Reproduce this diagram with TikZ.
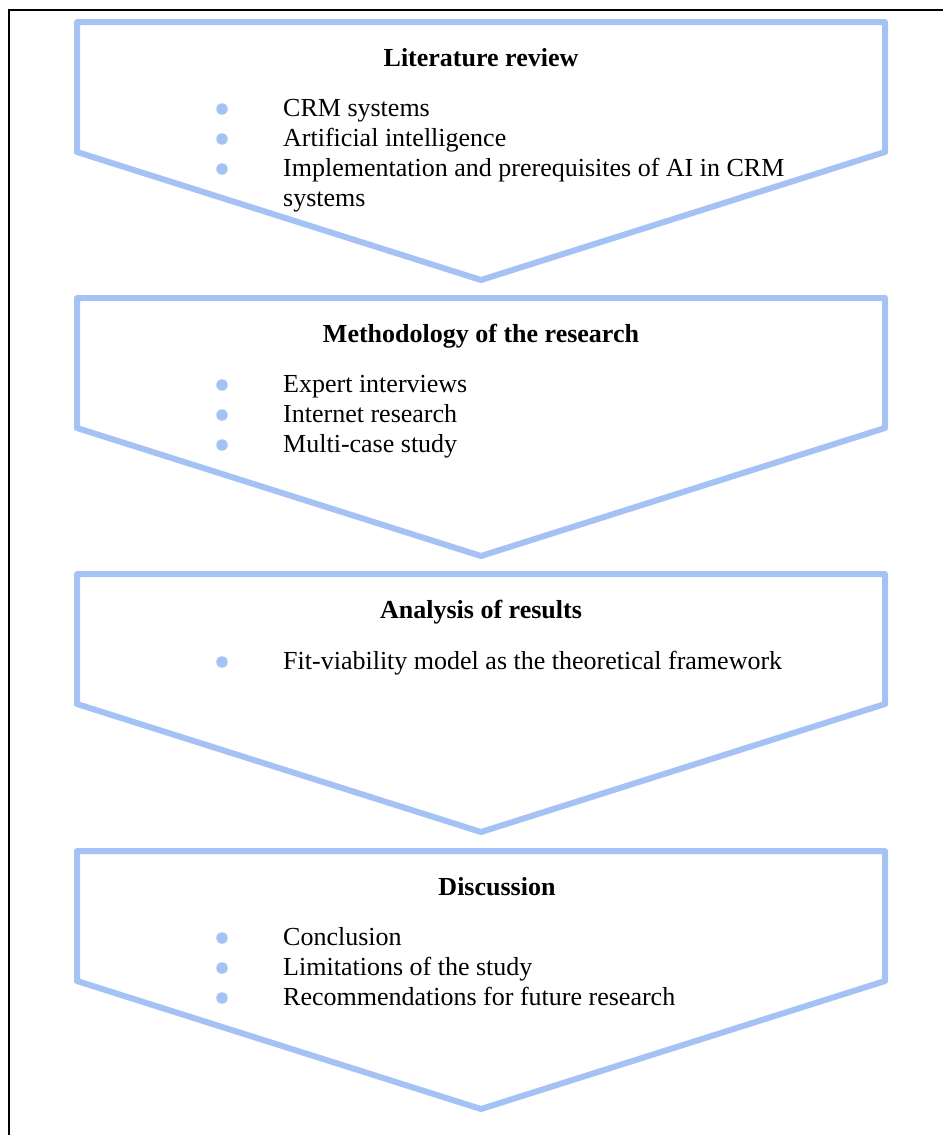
\documentclass[tikz,border=0pt]{standalone}
\usepackage{fontspec}
\setmainfont{Liberation Serif}
\definecolor{chevblue}{HTML}{A4C2F4}
\begin{document}
\begin{tikzpicture}[x=1pt,y=-1pt,
  chev/.style={draw=chevblue,line width=6pt,line join=round,line cap=round},
  ttl/.style={anchor=base,font=\fontsize{26}{30}\selectfont\bfseries,inner sep=0pt},
  itm/.style={anchor=base west,font=\fontsize{26}{30}\selectfont,inner sep=0pt},
  dot/.style={circle,fill=chevblue,minimum size=11.5pt,inner sep=0pt}]
\useasboundingbox (0,0) rectangle (943,1135);
\draw[line width=2.8pt] (9,1135) -- (9,10) -- (943,10);
% chevrons
\foreach \t in {22,298,574,851}{
  \draw[chev] (77,\t) -- (885,\t) -- (885,\t+130) -- (481,\t+258) -- (77,\t+130) -- cycle;
}
% box 1
\node[ttl] (t1) at (481,66) {Literature review};
\node[dot] (d11) at (222,109) {};
\node[dot] (d12) at (222,139) {};
\node[dot] (d13) at (222,169) {};
\node[itm] (i11) at (283,116) {CRM systems};
\node[itm] (i12) at (283,146) {Artificial intelligence};
\node[itm] (i13) at (283,176) {Implementation and prerequisites of AI in CRM};
\node[itm] (i14) at (283,206) {systems};
% box 2
\node[ttl] (t2) at (481,342) {Methodology of the research};
\node[dot] (d21) at (222,385) {};
\node[dot] (d22) at (222,415) {};
\node[dot] (d23) at (222,445) {};
\node[itm] (i21) at (283,392) {Expert interviews};
\node[itm] (i22) at (283,422) {Internet research};
\node[itm] (i23) at (283,452) {Multi-case study};
% box 3
\node[ttl] (t3) at (481,618) {Analysis of results};
\node[dot] (d31) at (222,662) {};
\node[itm] (i31) at (283,669) {Fit-viability model as the theoretical framework};
% box 4
\node[ttl] (t4) at (497,895) {Discussion};
\node[dot] (d41) at (222,938) {};
\node[dot] (d42) at (222,968) {};
\node[dot] (d43) at (222,998) {};
\node[itm] (i41) at (283,945) {Conclusion};
\node[itm] (i42) at (283,975) {Limitations of the study};
\node[itm] (i43) at (283,1005) {Recommendations for future research};
\end{tikzpicture}
\end{document}
